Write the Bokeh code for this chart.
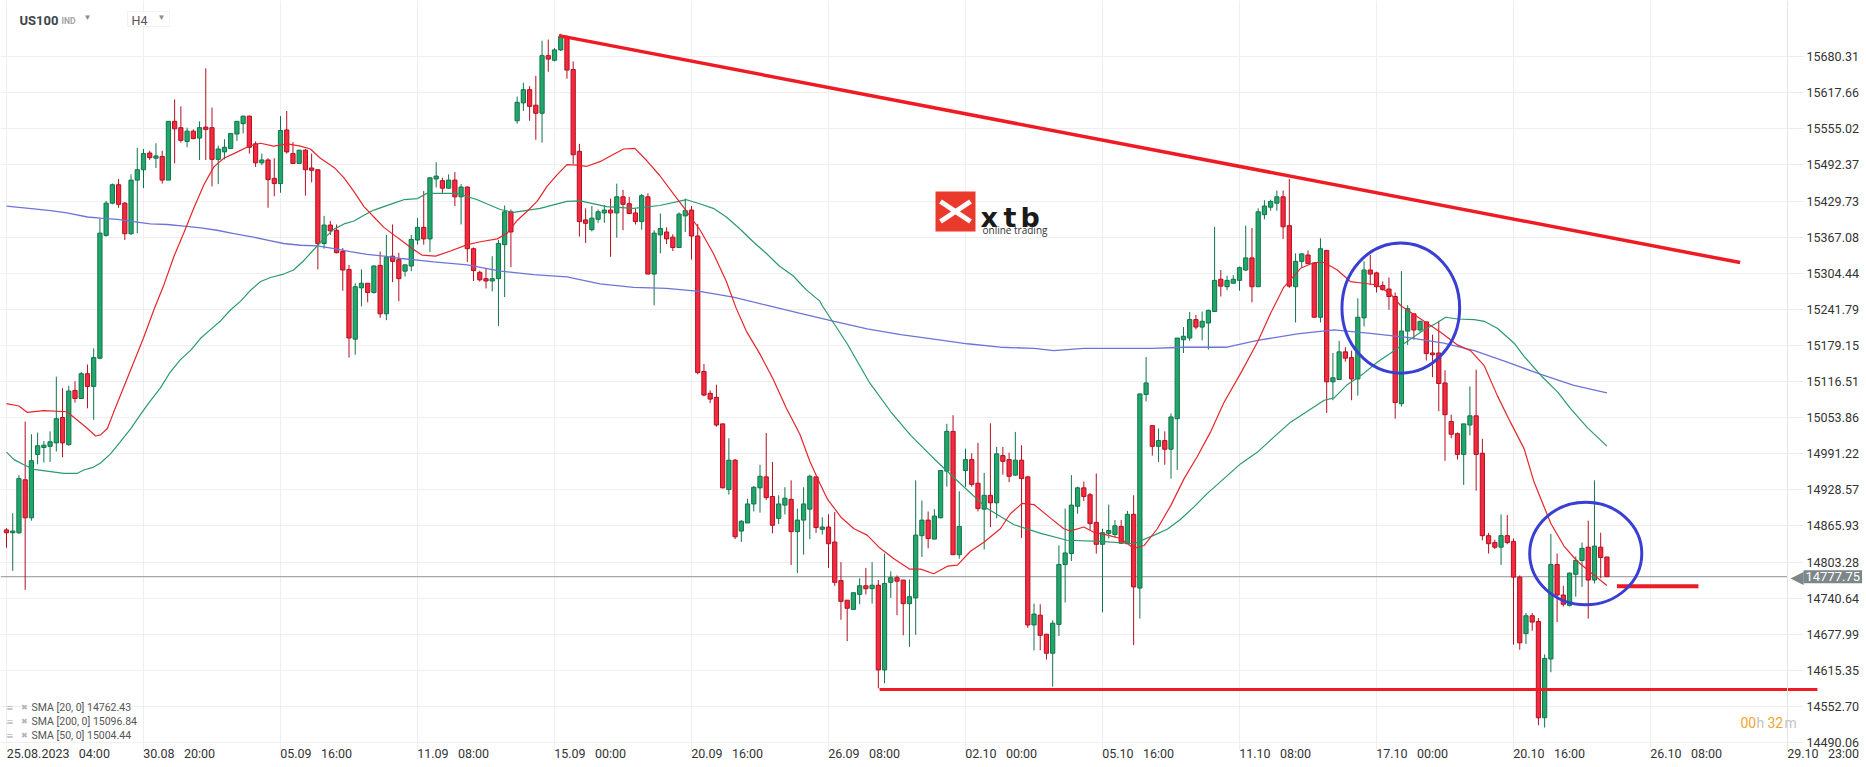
import numpy as np
from bokeh.plotting import figure
from bokeh.models import Range1d, FixedTicker, NumeralTickFormatter, Label, BoxAnnotation
from bokeh.embed import file_html
from bokeh.resources import INLINE

# ---------------- data ----------------
opens = [
14859,14854,14854,14946,14880,14990,15002,15004,15010,15054,
15007,15101,15087,15130,15108,15157,15370,15426,15458,15426,
15373,15466,15484,15513,15504,15507,15466,15568,15557,15533,
15551,15539,15558,15557,15502,15515,15521,15546,15564,15577,
15529,15496,15501,15469,15460,15553,15512,15495,15518,15487,
15484,15356,15388,15379,15342,15311,15190,15279,15287,15271,
15318,15234,15334,15328,15308,15317,15362,15384,15364,15468,
15465,15452,15466,15437,15454,15347,15306,15295,15291,15295,
15354,15411,15569,15600,15623,15596,15582,15682,15674,15692,
15715,15658,15516,15397,15380,15398,15409,15414,15409,15437,
15425,15409,15394,15437,15303,15371,15376,15367,15349,15404,
15414,15369,15134,15096,15089,15043,14929,14980,14857,14871,
14904,14932,14951,14917,14879,14902,14912,14856,14876,14895,
14951,14860,14864,14838,14771,14737,14721,14747,14762,14757,
14763,14616,14768,14776,14772,14731,14741,14849,14876,14843,
14880,14961,15030,14816,14962,14981,14940,14895,14919,14906,
14988,14981,14954,14980,14951,14694,14711,14678,14645,14695,
14799,14818,14900,14932,14920,14872,14834,14853,14851,14865,
14835,14886,14758,15094,15040,15004,15014,14999,15052,15189,
15192,15224,15211,15218,15238,15294,15281,15287,15292,15310,
15331,15281,15406,15419,15426,15437,15387,15281,15325,15336,
15322,15228,15344,15116,15120,15168,15158,15121,15227,15310,
15305,15283,15277,15264,15078,15204,15234,15206,15220,15166,
15166,15114,15047,15026,14990,15041,15057,14992,14849,14837,
14829,14849,14839,14777,14679,14710,14700,14533,14635,14799,
14746,14728,14782,14806,14829,14772,14829,14812]

highs = [
14862,14888,14954,15047,15025,15028,15013,15030,15125,15105,
15109,15117,15133,15146,15174,15399,15430,15460,15468,15428,
15476,15522,15520,15517,15530,15517,15568,15606,15594,15557,
15554,15568,15660,15592,15526,15537,15547,15568,15578,15578,
15533,15512,15504,15504,15577,15586,15532,15518,15520,15512,
15484,15404,15395,15389,15348,15319,15287,15311,15287,15318,
15342,15371,15389,15340,15319,15371,15400,15447,15470,15497,
15470,15476,15480,15459,15455,15349,15309,15313,15334,15362,
15422,15415,15611,15635,15629,15647,15708,15710,15695,15720,
15717,15672,15529,15417,15421,15415,15423,15434,15460,15449,
15437,15417,15442,15443,15379,15408,15384,15372,15410,15434,
15421,15390,15147,15101,15111,15043,15018,14982,14876,14913,
14935,14972,15027,14977,14919,14933,14945,14896,14933,14955,
14951,14881,14886,14890,14803,14737,14750,14775,14793,14803,
14772,14818,14787,14780,14772,14773,14945,14910,14891,14895,
14962,15043,15058,14926,15000,14992,15010,14958,15044,15003,
15003,14993,15029,15006,14953,14731,14730,14678,14702,14832,
14896,14954,14934,14943,14923,14957,14861,14903,14876,14876,
14892,14919,15095,15159,15040,15035,15030,15061,15192,15211,
15237,15232,15238,15241,15385,15310,15300,15301,15316,15387,
15383,15417,15431,15432,15448,15448,15468,15339,15339,15344,
15322,15365,15344,15166,15187,15176,15170,15261,15325,15336,
15307,15290,15297,15271,15308,15249,15234,15222,15220,15198,
15222,15136,15059,15028,15043,15108,15137,15017,14854,14842,
14886,14885,14844,14780,14715,14715,14706,14643,14852,14818,
14762,14785,14813,14837,14875,14945,14854,14812]

lows = [
14828,14788,14852,14755,14875,14973,14976,14977,14995,14985,
15005,15080,15087,15070,15050,15155,15368,15424,15418,15362,
15371,15374,15452,15501,15487,15460,15466,15495,15531,15523,
15537,15501,15501,15455,15459,15502,15520,15534,15547,15512,
15489,15492,15418,15438,15444,15512,15494,15495,15439,15462,
15311,15347,15371,15339,15274,15158,15163,15247,15254,15269,
15227,15223,15289,15256,15299,15308,15354,15354,15341,15453,
15444,15451,15421,15389,15324,15291,15290,15278,15273,15213,
15263,15315,15564,15586,15569,15536,15531,15654,15672,15690,
15642,15494,15368,15357,15377,15392,15392,15333,15366,15379,
15407,15389,15380,15303,15249,15339,15355,15343,15349,15376,
15328,15129,15091,15079,15038,14931,14920,14843,14838,14871,
14891,14889,14911,14853,14869,14886,14798,14784,14816,14843,
14854,14851,14793,14762,14703,14666,14721,14730,14747,14731,
14584,14593,14741,14711,14676,14656,14677,14812,14827,14843,
14879,14934,14816,14809,14934,14934,14891,14825,14864,14879,
14955,14942,14953,14845,14689,14650,14650,14634,14587,14675,
14733,14805,14887,14909,14859,14818,14716,14844,14846,14835,
14835,14659,14705,15082,14988,14977,14972,14948,14963,15166,
15187,15207,15188,15172,15237,15264,15275,15287,15274,15308,
15254,15281,15398,15413,15413,15364,15279,15219,15314,15320,
15228,15219,15062,15084,15120,15151,15084,15092,15212,15284,
15271,15274,15241,15052,15073,15180,15189,15202,15153,15124,
15065,14979,15018,14981,14937,15023,14927,14841,14818,14826,
14798,14834,14660,14651,14661,14684,14520,14516,14612,14699,
14726,14726,14743,14760,14705,14766,14775,14777.75]

closes = [
14854,14857,14948,14880,14979,15005,15006,15012,15052,15010,
15100,15087,15130,15108,15158,15374,15426,15458,15424,15373,
15466,15484,15512,15505,15508,15466,15568,15555,15535,15551,
15538,15557,15554,15502,15520,15523,15547,15568,15577,15523,
15496,15501,15467,15460,15552,15515,15495,15518,15484,15483,
15356,15388,15378,15340,15310,15192,15281,15287,15271,15317,
15234,15332,15325,15295,15319,15363,15384,15364,15470,15473,
15452,15466,15437,15454,15347,15309,15293,15291,15295,15356,
15411,15376,15601,15623,15594,15582,15682,15676,15692,15715,
15657,15510,15394,15391,15400,15411,15414,15409,15437,15424,
15408,15394,15439,15303,15374,15382,15364,15349,15407,15413,
15369,15132,15093,15086,15041,14932,14980,14847,14874,14904,
14933,14952,14915,14867,14904,14914,14856,14876,14904,14952,
14863,14864,14835,14768,14735,14723,14750,14762,14757,14763,
14616,14766,14776,14770,14731,14743,14850,14876,14844,14883,
14962,15030,14816,14865,14981,14938,14896,14919,14906,14991,
14978,14952,14980,14948,14694,14713,14676,14645,14697,14799,
14819,14902,14932,14917,14870,14834,14854,14858,14866,14836,
14886,14760,15095,15114,15004,15014,14999,15055,15192,15195,
15224,15211,15221,15240,15292,15282,15292,15294,15314,15331,
15281,15411,15421,15429,15437,15385,15282,15325,15338,15321,
15228,15347,15116,15123,15168,15157,15121,15228,15310,15303,
15281,15276,15264,15080,15204,15243,15206,15221,15165,15163,
15113,15059,15025,14990,15043,15057,14990,14849,14835,14829,
14849,14837,14777,14663,14710,14699,14533,14636,14799,14746,
14730,14784,14806,14827,14772,14831,14811,14777.75]

# moving averages (bar index, value)
sma20_x = [0,2,3.3,6,9.7,11.3,13,14.3,15.1,16.2,17.2,18.8,20.4,22,23.7,25.3,26.9,28.5,30.1,31.7,
           33.3,34.9,36.5,39.2,40.8,42.9,45.1,47.2,48.8,50.4,52.6,54.2,55.8,57.4,59,60.6,62.2,63.8,
           64.9,66.7,68.9,71.3,74,76.1,78.8,80.4,82,83.6,85.2,86.8,88.4,90,91.6,93.2,95.3,97.5,99.1,
           100.9,102.8,104.9,107.1,109.2,111.4,113.5,115.6,117.2,118.8,121,123.1,125.2,127.4,129,
           130.6,131.8,134,136.1,138.2,140.1,142.5,145,146.8,148.9,151.1,152.7,154.8,157,159.6,161.2,
           163.1,165,167.7,169.8,170.8,173,174.6,176.8,178.9,181,182.7,184.8,187,189.1,191.2,193.4,
           195.5,198.2,200.9,203,205.1,207.8,210,211.6,213.7,215.8,218,220.1,222.3,223.9,227.1,230.3,
           233,235.1,237.3,239.4,241.5,243.7,245.3,248,250.1,252.2,254.4,257]
sma20_y = [15078,15074,15063,15066,15064,15050,15035,15022,15024,15035,15063,15106,15149,15192,15242,
           15285,15334,15375,15418,15458,15489,15504,15512,15526,15530,15525,15529,15525,15520,15504,
           15488,15470,15446,15420,15402,15384,15371,15358,15349,15336,15334,15343,15354,15359,15364,
           15374,15396,15412,15429,15455,15475,15493,15492,15490,15498,15511,15520,15521,15500,15474,
           15442,15412,15379,15339,15290,15243,15204,15164,15121,15071,15025,14978,14940,14913,14881,
           14861,14850,14829,14809,14791,14791,14783,14796,14798,14822,14838,14861,14887,14905,14903,
           14879,14861,14857,14864,14855,14850,14844,14827,14832,14861,14902,14948,14986,15030,15080,
           15131,15185,15235,15280,15313,15323,15323,15310,15290,15287,15284,15268,15248,15225,15202,
           15180,15170,15144,15092,15046,15000,14942,14870,14831,14805,14785,14762.43]

sma50_x = [0,1.2,2.8,4.4,7.1,9.2,11.3,12.4,14,15.1,16.7,18.3,19.9,21.5,23.1,24.7,26.3,27.9,29.6,31.2,
           32.8,34.4,36,37.6,39.2,40.8,42.4,44.5,46.1,47.8,49.4,51,52.6,54.2,55.8,57.4,59,60.6,62.2,
           63.8,66,67.5,72.4,75.6,79.3,81.4,85.7,90,92.1,96.4,100.7,104.9,109.2,111.3,113.5,115.6,
           117.7,119.9,122,124.1,126.3,128.4,130.6,131,135,138.5,142,145.2,148.9,153.2,157.5,161.8,
           166.1,170.3,175.7,181,184.3,186.4,188.5,190.7,192.8,195.5,198.2,200.9,203.5,206.2,208.9,
           211.6,213.2,215.3,218,220.1,222.3,224.9,227.6,229.8,231.1,233,235.7,237.3,239.4,242.1,
           243.7,246.4,249.1,251.2,253.9,257]
sma50_y = [14994,14981,14972,14964,14960,14957,14957,14963,14968,14975,14991,15012,15034,15059,15083,
           15105,15133,15154,15171,15192,15207,15222,15241,15256,15275,15290,15297,15303,15310,15327,
           15346,15365,15381,15390,15395,15405,15414,15420,15426,15432,15434,15443,15443,15432,15415,
           15410,15417,15429,15430,15420,15417,15422,15432,15425,15417,15402,15382,15359,15339,15317,
           15300,15276,15256,15248,15182,15116,15064,15023,14983,14939,14896,14868,14853,14841,14839,
           14835,14850,14860,14877,14899,14922,14948,14974,14994,15020,15046,15065,15084,15088,15111,
           15131,15150,15166,15186,15206,15219,15228,15225,15224,15221,15209,15183,15160,15127,15098,
           15069,15036,15004.44]

sma200_x = [0,4.4,7.1,9.7,13,15.1,17.8,20.4,23.1,25.8,28.5,31.2,33.8,36.5,39.2,41.9,44.5,47.2,49.9,
            52.6,55.2,57.9,60.6,63.3,66,68.6,74,79.3,84.6,90,95.3,100.7,106,111.3,116.7,122,127.3,
            132.9,138.2,143.6,148.9,154.3,159.6,165,168.2,173,178.4,183.7,189.1,196,200.9,207.3,
            213.2,219,224.9,230.8,235.7,241,246.4,251.7,257]
sma200_y = [15421,15416,15413,15409,15402,15400,15398,15394,15390,15389,15386,15383,15379,15373,15368,
            15362,15356,15353,15352,15347,15342,15337,15334,15330,15327,15324,15319,15308,15302,15298,
            15286,15280,15278,15273,15263,15249,15235,15221,15208,15198,15190,15182,15176,15174,15170,
            15174,15174,15174,15176,15176,15188,15199,15206,15200,15193,15183,15170,15150,15129,15110,
            15096.84]

# drawn annotations (bar index / price)
trend_x = [88.7, 278.4]
trend_y = [15716.7, 15322.9]
support_x = [140.2, 290.8]
support_y = [14582, 14582]
short_x = [258.6, 271.7]
short_y = [14761, 14761]
circle_x = [223.9, 253.6]
circle_y = [15244, 14818]
circle_w = [18.9, 18.0]
circle_h = [226, 178]

x_tick_pos = [0, 22, 44, 66, 88, 110, 132, 154, 176, 198, 220, 242, 264, 286]
x_tick_dates = ["25.08.2023", "30.08", "05.09", "11.09", "15.09", "20.09", "26.09", "02.10",
                "05.10", "11.10", "17.10", "20.10", "26.10", "29.10"]
x_tick_times = ["04:00", "20:00", "16:00", "08:00", "00:00", "16:00", "08:00", "00:00",
                "16:00", "08:00", "00:00", "16:00", "08:00", "23:00"]
y_ticks = [14490.06, 14552.70, 14615.35, 14677.99, 14740.64, 14803.28, 14865.93, 14928.57,
           14991.22, 15053.86, 15116.51, 15179.15, 15241.79, 15304.44, 15367.08, 15429.73,
           15492.37, 15555.02, 15617.66, 15680.31]
legend_rows = ["SMA [20, 0] 14762.43", "SMA [200, 0] 15096.84", "SMA [50, 0] 15004.44"]
last_price = 14777.75
last_bar_x = 286.0   # right edge of the price pane (29.10 23:00)

# ---------------- layout ----------------
W, H = 1866, 767
FRAME_H = 750                      # frame reaches a little below the lowest price line
SX = 6.2273                        # px per bar
SY = 742 / (15777.7 - 14490.06)    # px per index point
X0 = -0.9636
X1 = X0 + W / SX
Y0 = 14490.06 - 8 / SY
Y1 = Y0 + FRAME_H / SY

def dx(px):
    return X0 + px / SX

def dy(py):
    return Y0 + (FRAME_H - py) / SY

p = figure(width=W, height=H, x_range=Range1d(X0, X1), y_range=Range1d(Y0, Y1),
           y_axis_location="right", toolbar_location=None, output_backend="svg",
           min_border_left=0, min_border_top=0, min_border_right=0,
           min_border_bottom=H - FRAME_H,
           background_fill_color="white", border_fill_color="white", outline_line_color=None)

FONT = "Roboto"
AX_SIZE = 12.5
# approximate Roboto advance widths (em) -> used to left-align the date labels on their tick
CW = {".": 0.2632, ":": 0.2422, "\u00a0": 0.2476, " ": 0.2476}

def text_w(s):
    return sum(CW.get(ch, 0.5615) for ch in s) * AX_SIZE

GAP = "\u00a0\u00a0\u00a0"
overrides = {}
for k, (t, d, tm) in enumerate(zip(x_tick_pos, x_tick_dates, x_tick_times)):
    vis = d + GAP + tm
    n = 2 if k == 0 else int(round(text_w(vis) / (CW["\u00a0"] * AX_SIZE)))
    overrides[t] = "\u00a0" * n + vis

p.xaxis.ticker = FixedTicker(ticks=x_tick_pos)
p.xaxis.major_label_overrides = overrides
p.xaxis.major_tick_out = 0
p.xaxis.major_tick_in = 0
p.xaxis.minor_tick_line_color = None
p.xaxis.axis_line_color = None
p.xaxis.major_label_standoff = -5
p.xaxis.major_label_text_font = FONT
p.xaxis.major_label_text_font_size = f"{AX_SIZE}px"
p.xaxis.major_label_text_color = "#333333"

p.yaxis.fixed_location = last_bar_x
p.yaxis.ticker = FixedTicker(ticks=y_ticks)
p.yaxis.formatter = NumeralTickFormatter(format="0.00")
p.yaxis.major_tick_out = 16
p.yaxis.major_tick_in = 0
p.yaxis.major_tick_line_color = "#ececec"
p.yaxis.minor_tick_line_color = None
p.yaxis.axis_line_color = "#e6e6e6"
p.yaxis.major_label_standoff = 3
p.yaxis.major_label_text_font = FONT
p.yaxis.major_label_text_font_size = f"{AX_SIZE}px"
p.yaxis.major_label_text_color = "#333333"

p.xgrid.ticker = FixedTicker(ticks=x_tick_pos)
p.ygrid.ticker = FixedTicker(ticks=y_ticks)
p.xgrid.grid_line_color = "#efefef"
p.ygrid.grid_line_color = "#efefef"

# blank the price-scale strip (grid lines stop at the pane edge)
p.quad(left=[last_bar_x + 0.15], right=[X1], bottom=[Y0], top=[Y1],
       fill_color="white", line_color=None)

# current price line
p.line([X0, last_bar_x], [last_price, last_price], line_color="#8d9395", line_width=1)

# candles
o = np.array(opens, float); c = np.array(closes, float)
h = np.array(highs, float); l = np.array(lows, float)
idx = np.arange(len(o))
up = c >= o
fill = np.where(up, "#22a66b", "#f42a3e").tolist()
edge = np.where(up, "#10744a", "#b10f20").tolist()
p.segment(x0=idx, y0=l, x1=idx, y1=h, line_color=edge, line_width=1)
p.vbar(x=idx, width=0.68, top=np.maximum(o, c), bottom=np.minimum(o, c),
       fill_color=fill, line_color=edge, line_width=1)

# moving averages
p.line(sma200_x, sma200_y, line_color="#6e74d6", line_width=1.3)
p.line(sma50_x, sma50_y, line_color="#2a9a6c", line_width=1.2)
p.line(sma20_x, sma20_y, line_color="#e5262b", line_width=1.2)

# drawings
p.line(trend_x, trend_y, line_color="#ef1b24", line_width=3.5)
p.line(support_x, support_y, line_color="#ef1b24", line_width=3)
p.line(short_x, short_y, line_color="#ef1b24", line_width=4)
p.ellipse(x=circle_x, y=circle_y, width=circle_w, height=circle_h,
          fill_color=None, line_color="#3a3fd4", line_width=3)

def lab(text, px, py, size, color, bold=False, baseline="middle", font=FONT, **kw):
    p.add_layout(Label(x=dx(px), y=dy(py), text=text, text_font=font,
                       text_font_size=f"{size}px", text_color=color,
                       text_font_style="bold" if bold else "normal",
                       text_baseline=baseline, text_align="left", **kw))

# xtb logo
p.quad(left=[dx(935)], right=[dx(975)], top=[dy(191)], bottom=[dy(231)],
       fill_color="#ea3a2c", line_color=None)
p.segment(x0=[dx(940), dx(940)], y0=[dy(201), dy(221)], x1=[dx(970), dx(970)],
          y1=[dy(221), dy(201)], line_color="white", line_width=5)
lab("x", 980, 217, 27, "#1a1a1a", bold=True, baseline="alphabetic", font="DejaVu Sans")
lab("t", 1003, 217, 27, "#1a1a1a", bold=True, baseline="alphabetic", font="DejaVu Sans")
lab("b", 1020, 217, 27, "#1a1a1a", bold=True, baseline="alphabetic", font="DejaVu Sans")
lab("online trading", 982, 229, 10, "#333333", baseline="alphabetic", font="Open Sans")

# header
lab("US100", 19, 20, 13, "#3d4349", bold=True)
lab("IND", 61, 20.5, 8.5, "#a3a3a3", bold=True)
lab("\u25BC", 83, 17, 8, "#8a8a8a")
p.add_layout(BoxAnnotation(left=dx(127), right=dx(169), top=dy(11), bottom=dy(26),
                           fill_color="white", fill_alpha=1, line_color="#d3d3d3", line_width=1))
lab("H4", 131, 20, 12.5, "#555555")
lab("\u25BC", 157, 17, 8, "#8a8a8a")

# legend block
for row, yy in zip(legend_rows, [707, 721, 735]):
    lab("\u2261", 6, yy, 12, "#9c9c9c")
    lab("\u2716", 20, yy, 8, "#b4b4b4")
    lab(row, 31, yy, 10.5, "#555555")

# countdown
lab("00", 1740, 722, 14, "#f5a52a")
lab("h", 1756, 722, 14, "#c4c4c4")
lab("32", 1767, 722, 14, "#f5a52a")
lab("m", 1784, 722, 14, "#c4c4c4")

# price tag on the axis
tag_py = FRAME_H - (last_price - Y0) * SY
lab("\u25C0", 1790, tag_py, 17, "#7d8689", font="DejaVu Sans")
lab(f"{last_price:.2f}", 1803, tag_py, 13, "white", background_fill_color="#7d8689", padding=2)

open("out.html", "w").write(file_html(p, INLINE))
